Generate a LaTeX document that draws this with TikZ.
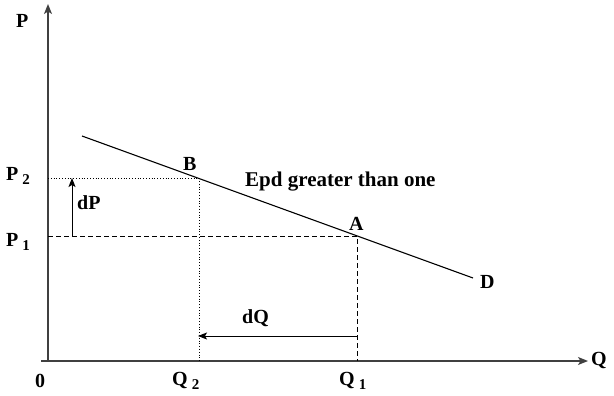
\documentclass[tikz,border=0pt]{standalone}
\usepackage{fontspec}
\setmainfont{Liberation Serif}
\usetikzlibrary{arrows.meta}
\newcommand{\lbsub}[2]{#1\hspace{4pt}\raisebox{-4pt}{\fontsize{15}{15}\selectfont #2}}
\begin{document}
\begin{tikzpicture}[x=1pt,y=-1pt,
  lbl/.style={font=\fontsize{20}{20}\selectfont\bfseries, inner sep=0pt, anchor=base west},
  axis/.style={line width=1.4pt, draw=black!75, -{Stealth[length=10pt,width=8pt,inset=2.5pt]}},
  guide/.style={line width=0.8pt},
  marr/.style={line width=1pt, -{Stealth[length=9pt,width=7pt,inset=2pt]}}]
\useasboundingbox (0,0) rectangle (614,396);
% coordinates
\coordinate (O) at (48,361);
\coordinate (Ytop) at (48,4);
\coordinate (Xl) at (41,361);
\coordinate (Xend) at (588,361);
\coordinate (Dstart) at (82,136);
\coordinate (Dend) at (473,278);
\coordinate (B) at (199,178);
\coordinate (A) at (357,236);
\coordinate (P2) at (48,178);
\coordinate (P1) at (48,236);
\coordinate (Q2) at (199,361);
\coordinate (Q1) at (357,361);
\coordinate (dPs) at (72,236);
\coordinate (dPe) at (72,178);
\coordinate (dQs) at (357,336);
\coordinate (dQe) at (198,336);
% axes
\draw[axis] (O) -- (Ytop);
\draw[axis] (Xl) -- (Xend);
% guides
\draw[guide, dotted] (P2) -- (B) -- (Q2);
\draw[guide, dash pattern=on 5pt off 3pt] (P1) -- (A) -- (Q1);
% demand line
\draw[line width=1.1pt] (Dstart) -- (Dend);
% arrows
\draw[marr] (dPs) -- (dPe);
\draw[marr] (dQs) -- (dQe);
% labels
\node[lbl] (lP) at (16,28) {P};
\node[lbl] (lQ) at (591,365) {Q};
\node[lbl] (l0) at (35,387) {0};
\node[lbl] (lQ2) at (172,385) {\lbsub{Q}{2}};
\node[lbl] (lQ1) at (339,385) {\lbsub{Q}{1}};
\node[lbl] (lP2) at (6,180) {\lbsub{P}{2}};
\node[lbl] (lP1) at (6,246) {\lbsub{P}{1}};
\node[lbl] (lB) at (183,171) {B};
\node[lbl] (lA) at (349,230) {A};
\node[lbl] (lD) at (480,288) {D};
\node[lbl, font=\fontsize{21}{21}\selectfont\bfseries] (lE) at (245,186) {Epd greater than one};
\node[lbl] (ldP) at (77,209) {dP};
\node[lbl] (ldQ) at (242,323) {dQ};
\end{tikzpicture}
\end{document}
